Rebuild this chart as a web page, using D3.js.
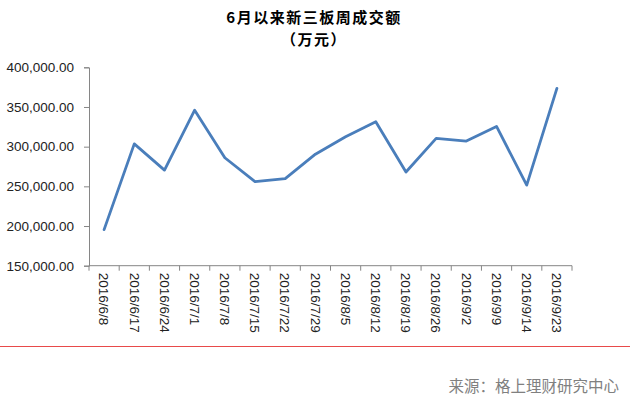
<!DOCTYPE html>
<html><head><meta charset="utf-8">
<script src="https://cdn.jsdelivr.net/npm/d3@7"></script>
<style>body{margin:0;background:#fff}svg{display:block}</style>
</head><body>
<svg id="c" width="630" height="401"></svg>
<script>
const categories = ["2016/6/8","2016/6/17","2016/6/24","2016/7/1","2016/7/8","2016/7/15","2016/7/22","2016/7/29","2016/8/5","2016/8/12","2016/8/19","2016/8/26","2016/9/2","2016/9/9","2016/9/14","2016/9/23"];
const values = [195500,303500,270500,346000,286000,256000,259800,290500,312500,331500,268000,310500,307000,325500,251500,373500];
const yTicks = [150000,200000,250000,300000,350000,400000];
const titleLines = ["6月以来新三板周成交额","（万元）"];
const sourceText = "来源：格上理财研究中心";

const svg = d3.select("#c");
const pLeft = 89, pRight = 572, pTop = 67.3, pBottom = 265.7;
const x = d3.scaleBand().domain(categories).range([pLeft, pRight]);
const y = d3.scaleLinear().domain([150000, 400000]).range([pBottom, pTop]);
const fmt = d3.format(",.2f");
const axisColor = "#868686";

svg.append("g").selectAll("text").data(titleLines).join("text")
  .attr("x", 314).attr("y", (d,i) => 23 + i*22)
  .attr("text-anchor", "middle")
  .attr("font-family", "'Noto Sans CJK SC', sans-serif")
  .attr("font-weight", "bold").attr("font-size", 15).attr("letter-spacing", 1.5).attr("fill", "#000")
  .text(d => d);

// y axis
const ya = svg.append("g").attr("transform", `translate(${pLeft},0)`)
  .call(d3.axisLeft(y).tickValues(yTicks).tickFormat(fmt).tickSize(5).tickPadding(10));
ya.select(".domain").attr("stroke", axisColor);
ya.selectAll(".tick line").attr("stroke", axisColor);
ya.selectAll(".tick text").attr("font-family", "'Liberation Sans', Arial, sans-serif")
  .attr("font-size", 13.5).attr("fill", "#222");

// x axis
const xa = svg.append("g").attr("transform", `translate(0,${pBottom})`)
  .call(d3.axisBottom(x).tickSize(0).tickPadding(0));
xa.select(".domain").remove();
svg.append("line").attr("x1", pLeft).attr("x2", pRight).attr("y1", pBottom).attr("y2", pBottom)
  .attr("stroke", axisColor);
svg.append("g").selectAll("line").data(categories.map(c => x(c)).concat([pRight])).join("line")
  .attr("x1", d => d).attr("x2", d => d).attr("y1", pBottom).attr("y2", pBottom + 5)
  .attr("stroke", axisColor);
xa.selectAll(".tick text")
  .attr("transform", "rotate(90)")
  .attr("text-anchor", "start")
  .attr("x", 7).attr("y", 0).attr("dy", "0.35em")
  .attr("font-family", "'Liberation Sans', Arial, sans-serif")
  .attr("font-size", 13.5).attr("fill", "#222");

// line
const line = d3.line().x((d,i) => x(categories[i]) + x.bandwidth()/2).y(d => y(d));
svg.append("path").datum(values).attr("d", line)
  .attr("fill", "none").attr("stroke", "#4a7ebb").attr("stroke-width", 2.8)
  .attr("stroke-linejoin", "round").attr("stroke-linecap", "round");

// red separator and source
svg.append("line").attr("x1", 0).attr("x2", 630).attr("y1", 346.5).attr("y2", 346.5)
  .attr("stroke", "#e84a4a").attr("stroke-width", 1.2);
svg.append("text").attr("x", 619).attr("y", 392).attr("text-anchor", "end")
  .attr("font-family", "'Noto Sans CJK SC', sans-serif").attr("font-size", 15.5)
  .attr("fill", "#808080").text(sourceText);
</script>
</body></html>
